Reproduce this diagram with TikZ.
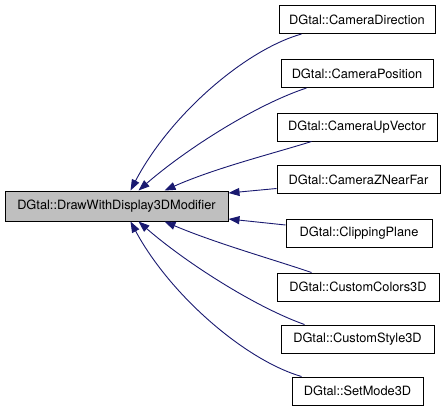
\documentclass[tikz,border=0pt]{standalone}
\usepackage{fontspec}
\setmainfont{TeX Gyre Heros}
\usetikzlibrary{arrows.meta}
\definecolor{edgeblue}{RGB}{25,25,112}
\definecolor{mainfill}{RGB}{191,191,191}
\tikzset{
  cls/.style={draw=black, line width=1pt, fill=white, inner sep=0pt, minimum height=28pt, font=\fontsize{12.8}{15}\selectfont},
  mainbox/.style={cls, fill=mainfill, minimum height=30pt},
  edge/.style={draw=edgeblue, line width=0.9pt, -{Triangle[length=11pt,width=8pt]}},
}
\begin{document}
\begin{tikzpicture}[x=1pt,y=-1pt]
\useasboundingbox (0,0) rectangle (445,413);
\node[mainbox, minimum width=223pt] (m) at (116.5,206) {DGtal::DrawWithDisplay3DModifier};
\node[cls, minimum width=156pt] (cd) at (357,19.5) {DGtal::CameraDirection};
\node[cls, minimum width=152pt] (cp) at (357,73.5) {DGtal::CameraPosition};
\node[cls, minimum width=160pt] (cu) at (357,127) {DGtal::CameraUpVector};
\node[cls, minimum width=163pt] (cz) at (358.5,179.5) {DGtal::CameraZNearFar};
\node[cls, minimum width=146pt] (cl) at (359,233) {DGtal::ClippingPlane};
\node[cls, minimum width=162pt] (cc) at (358,287) {DGtal::CustomColors3D};
\node[cls, minimum width=153pt] (cs) at (357.5,339) {DGtal::CustomStyle3D};
\node[cls, minimum width=131pt] (sm) at (357.5,391) {DGtal::SetMode3D};

\draw[edge] ([xshift=23pt]cd.south west) .. controls (245,50) and (170,115) .. ([xshift=14pt]m.north);
\draw[edge] ([xshift=26pt]cp.south west) .. controls (255,105) and (185,150) .. ([xshift=22pt]m.north);
\draw[edge] ([xshift=35pt]cu.south west) .. controls (275,153) and (215,168) .. ([xshift=48pt]m.north);
\draw[edge] ([yshift=-9pt]cz.west) -- ([yshift=13pt]m.east);
\draw[edge] ([yshift=8pt]cl.west) -- ([yshift=-13pt]m.east);
\draw[edge] ([xshift=35pt]cc.north west) .. controls (275,260) and (215,243) .. ([xshift=48pt]m.south);
\draw[edge] ([xshift=24pt]cs.north west) .. controls (255,307) and (185,262) .. ([xshift=22pt]m.south);
\draw[edge] ([xshift=10pt]sm.north west) .. controls (245,360) and (170,295) .. ([xshift=14pt]m.south);
\end{tikzpicture}
\end{document}
